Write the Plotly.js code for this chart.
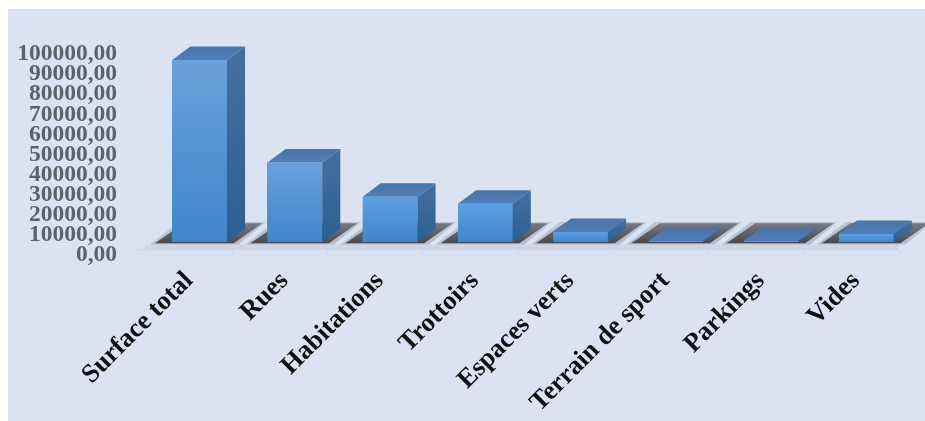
<!DOCTYPE html>
<html><head><meta charset="utf-8">
<script src="https://cdn.plot.ly/plotly-3.0.1.min.js"></script>
<style>html,body{margin:0;padding:0;background:#fff;overflow:hidden}
#chart{position:absolute;left:8px;top:9px;width:917px;height:412px}
#chart svg{filter:blur(0.45px)}</style>
</head><body><div id="chart"></div>
<script>
const categories = ["Surface total","Rues","Habitations","Trottoirs","Espaces verts","Terrain de sport","Parkings","Vides"];
const surfaces = [90500,39500,22500,19000,5000,500,500,4000];
const yTicks = [0,10000,20000,30000,40000,50000,60000,70000,80000,90000,100000];
const yTickText = ["0,00","10000,00","20000,00","30000,00","40000,00","50000,00","60000,00","70000,00","80000,00","90000,00","100000,00"];

// 3D look, in axis units
const floorY = 5500, depthX = 0.19, depthY = 6700, barW = 0.575, barShift = 0.157;
const idx = categories.map((_, i) => i);
const none = {width:0};
function poly(xs, ys, colors){
  return {type:'scatter',mode:'lines',x:xs,y:ys,fill:'toself',line:none,hoverinfo:'skip',showlegend:false,
    fillgradient:{type:'vertical',colorscale:[[0,colors[0]],[1,colors[1]]]},fillcolor:colors[1]};
}
const traces = [];
// floor band
traces.push(poly([-0.42,7.5,7.5,-0.42],[1500,1500,4200,4200],['#cdd2df','#d3d8e6']));
// axis line
traces.push({type:'scatter',mode:'lines',x:[-0.5,7.5],y:[1500,1500],line:{color:'#d2d7e4',width:1},hoverinfo:'skip',showlegend:false});
// floor shadows
idx.forEach(i=>{
  const l=i+barShift-barW/2, r=l+barW;
  traces.push(poly([l-0.23,r+0.12,r+0.41,l+0.07],[4200,4200,15400,15400],['rgba(150,153,165,0.55)','rgba(170,173,185,0.55)']));
  traces.push(poly([l-0.18,r+0.07,r+0.37,l+0.12],[4800,4800,14800,14800],['#47484e','#777a85']));
});
// front faces through the bar trace
traces.push({type:'bar',x:idx,y:surfaces,base:floorY,width:barW,offset:barShift-barW/2,
  marker:{color:'#4c90d6',line:{width:0}},hoverinfo:'skip',showlegend:false});
idx.forEach(i=>{
  const v=surfaces[i], l=i+barShift-barW/2, r=l+barW, t=floorY+v, b=floorY;
  traces.push(poly([l,r,r,l],[b,b,t,t],['#3f86cd', v>30000?'#6ba1da':'#5ea0e2']));     // front shading
  traces.push(poly([r,r+depthX,r+depthX,r],[b,b+depthY,t+depthY,t],['#2c5f94','#44709f'])); // side
  traces.push(poly([l,r,r+depthX,l+depthX],[t,t,t+depthY,t+depthY],['#4f7eb8','#4a74a6'])); // top
});
const layout = {
  width:917,height:412,margin:{l:129,r:0,t:37,b:168},
  paper_bgcolor:'#dbe3f3',plot_bgcolor:'rgba(0,0,0,0)',showlegend:false,bargap:0,
  font:{family:'"Liberation Serif",serif'},
  xaxis:{type:'linear',range:[-0.5,7.773],tickvals:idx,ticktext:categories,tickangle:-45,automargin:false,
    anchor:'free',position:0.0145,showgrid:false,zeroline:false,showline:false,
    ticks:'',ticklabelstandoff:8,tickfont:{family:'"Liberation Serif",serif',size:26.5,color:'#111111',weight:700},
    minor:{tickvals:[-0.5,0.5,1.5,2.5,3.5,4.5,5.5,6.5,7.5],ticks:'outside',ticklen:4,tickcolor:'#d2d7e4',tickwidth:1,showgrid:false}},
  yaxis:{range:[0,103000],tickvals:yTicks,ticktext:yTickText,showgrid:false,zeroline:false,showline:false,ticks:'',
    ticklabelstandoff:19,automargin:false,
    tickfont:{family:'"Liberation Serif",serif',size:23.5,color:'#5d6269',weight:700}}
};
Plotly.newPlot('chart',traces,layout,{displayModeBar:false,responsive:false,staticPlot:true});
</script></body></html>
